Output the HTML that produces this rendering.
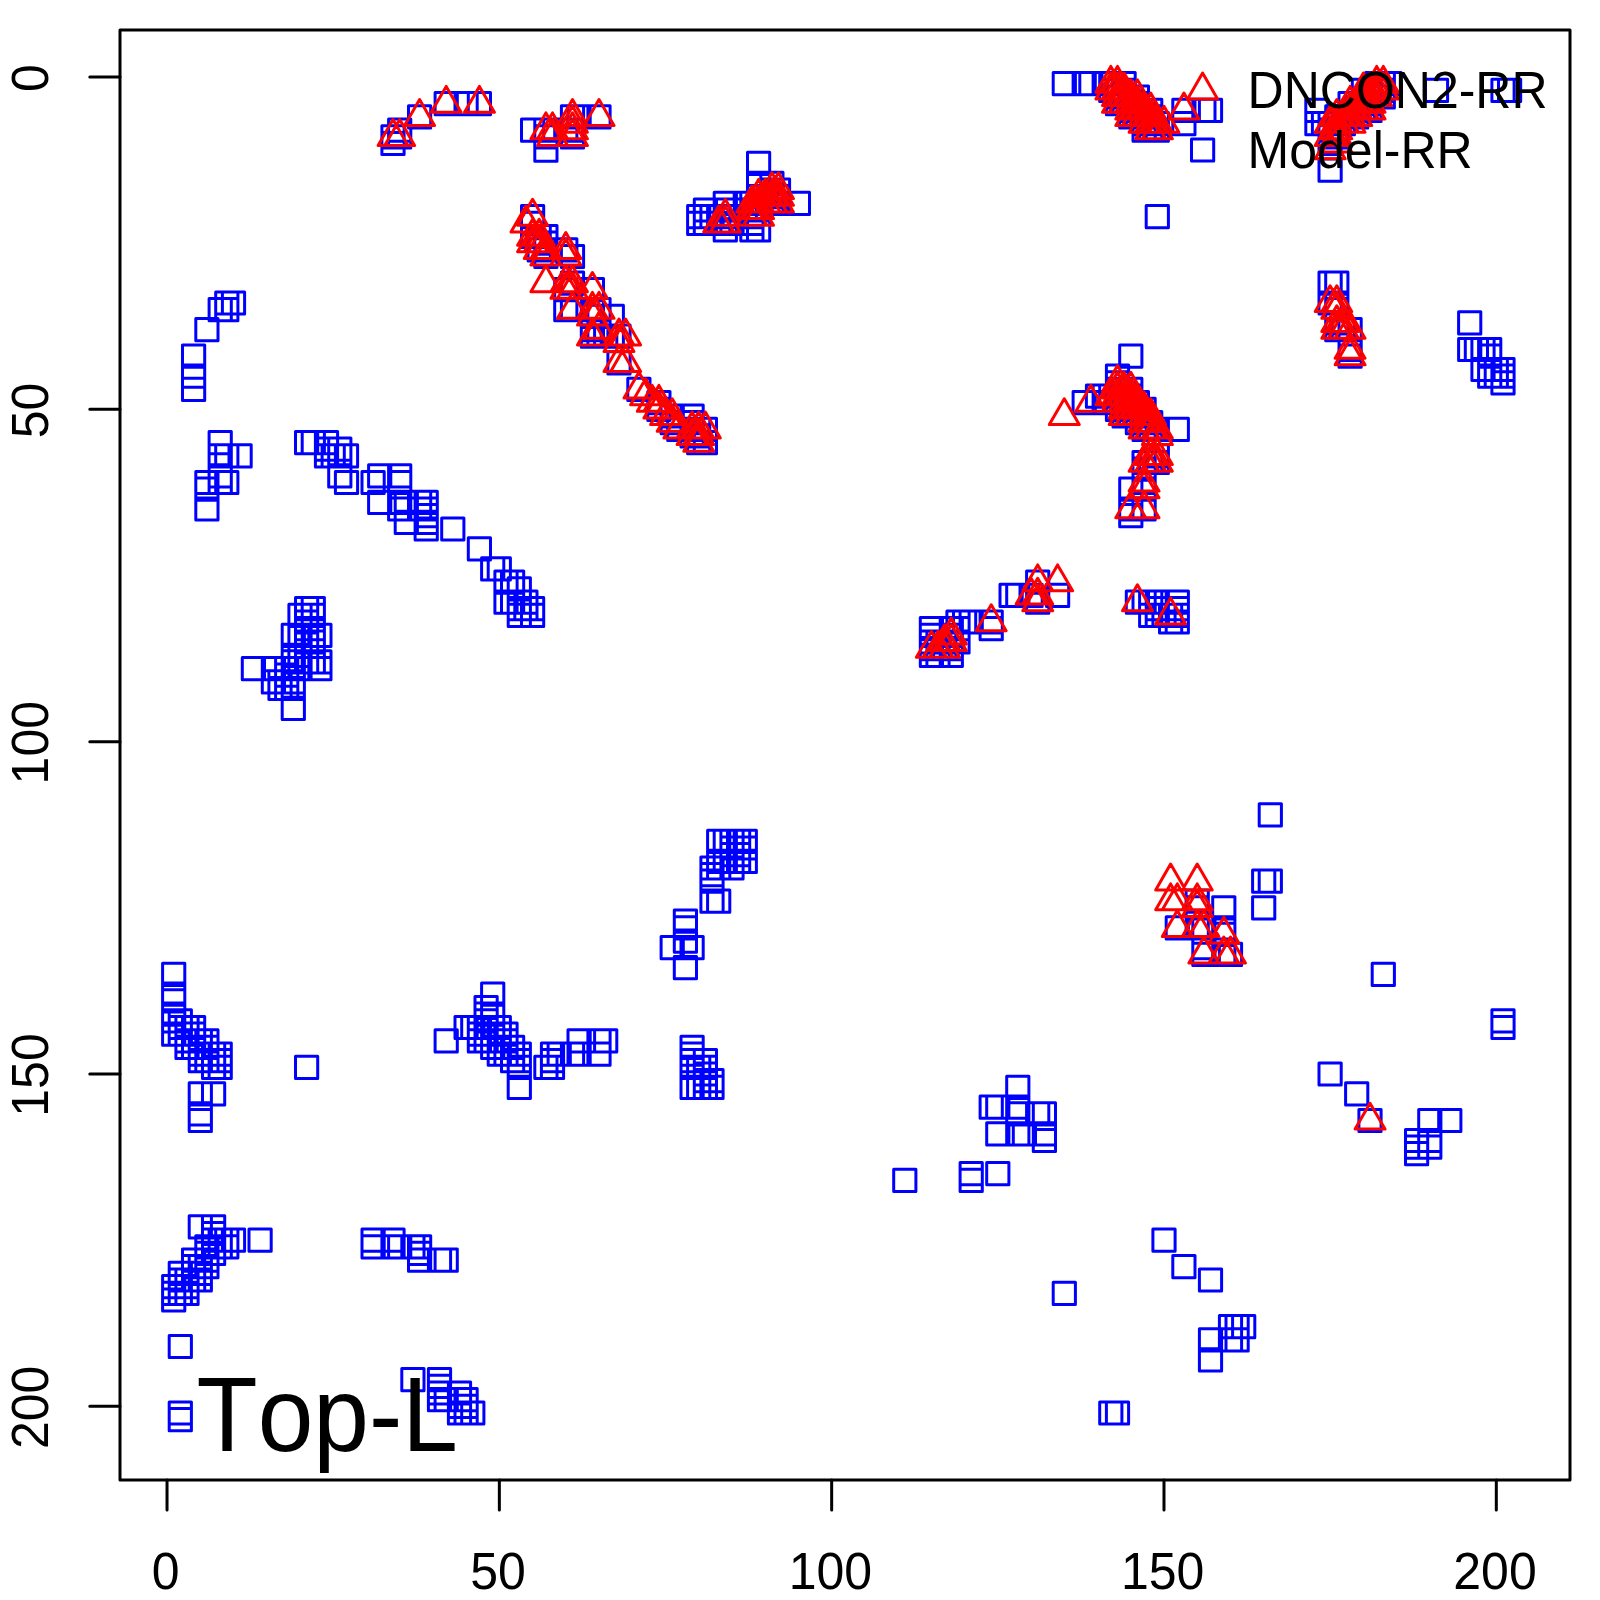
<!DOCTYPE html>
<html><head><meta charset="utf-8"><title>Top-L</title>
<style>html,body{margin:0;padding:0;background:#fff}svg{display:block}text{font-family:"Liberation Sans",Arial,Helvetica,sans-serif;fill:#000;font-kerning:none}</style></head><body>
<svg width="1600" height="1600" viewBox="0 0 1600 1600">
<rect width="1600" height="1600" fill="#fff"/>
<path d="M162.6 963.2h22.2v22.2h-22.2zM162.6 983.1h22.2v22.2h-22.2zM162.6 989.8h22.2v22.2h-22.2zM162.6 1003.1h22.2v22.2h-22.2zM162.6 1009.7h22.2v22.2h-22.2zM162.6 1023.0h22.2v22.2h-22.2zM162.6 1275.6h22.2v22.2h-22.2zM162.6 1282.2h22.2v22.2h-22.2zM162.6 1288.9h22.2v22.2h-22.2zM169.2 1009.7h22.2v22.2h-22.2zM169.2 1016.4h22.2v22.2h-22.2zM169.2 1023.0h22.2v22.2h-22.2zM169.2 1262.3h22.2v22.2h-22.2zM169.2 1268.9h22.2v22.2h-22.2zM169.2 1275.6h22.2v22.2h-22.2zM169.2 1282.2h22.2v22.2h-22.2zM169.2 1335.4h22.2v22.2h-22.2zM169.2 1401.9h22.2v22.2h-22.2zM169.2 1408.5h22.2v22.2h-22.2zM175.9 1016.4h22.2v22.2h-22.2zM175.9 1023.0h22.2v22.2h-22.2zM175.9 1029.7h22.2v22.2h-22.2zM175.9 1036.3h22.2v22.2h-22.2zM175.9 1268.9h22.2v22.2h-22.2zM175.9 1275.6h22.2v22.2h-22.2zM175.9 1282.2h22.2v22.2h-22.2zM182.5 345.1h22.2v22.2h-22.2zM182.5 365.0h22.2v22.2h-22.2zM182.5 378.3h22.2v22.2h-22.2zM182.5 1016.4h22.2v22.2h-22.2zM182.5 1023.0h22.2v22.2h-22.2zM182.5 1029.7h22.2v22.2h-22.2zM182.5 1036.3h22.2v22.2h-22.2zM182.5 1249.0h22.2v22.2h-22.2zM182.5 1255.6h22.2v22.2h-22.2zM182.5 1262.3h22.2v22.2h-22.2zM182.5 1268.9h22.2v22.2h-22.2zM189.2 1029.7h22.2v22.2h-22.2zM189.2 1036.3h22.2v22.2h-22.2zM189.2 1043.0h22.2v22.2h-22.2zM189.2 1049.6h22.2v22.2h-22.2zM189.2 1082.8h22.2v22.2h-22.2zM189.2 1102.8h22.2v22.2h-22.2zM189.2 1109.4h22.2v22.2h-22.2zM189.2 1215.8h22.2v22.2h-22.2zM189.2 1255.6h22.2v22.2h-22.2zM189.2 1262.3h22.2v22.2h-22.2zM189.2 1268.9h22.2v22.2h-22.2zM195.8 318.5h22.2v22.2h-22.2zM195.8 471.4h22.2v22.2h-22.2zM195.8 478.0h22.2v22.2h-22.2zM195.8 497.9h22.2v22.2h-22.2zM195.8 1029.7h22.2v22.2h-22.2zM195.8 1036.3h22.2v22.2h-22.2zM195.8 1043.0h22.2v22.2h-22.2zM195.8 1049.6h22.2v22.2h-22.2zM195.8 1235.7h22.2v22.2h-22.2zM195.8 1242.3h22.2v22.2h-22.2zM195.8 1249.0h22.2v22.2h-22.2zM195.8 1255.6h22.2v22.2h-22.2zM202.5 1043.0h22.2v22.2h-22.2zM202.5 1049.6h22.2v22.2h-22.2zM202.5 1056.2h22.2v22.2h-22.2zM202.5 1082.8h22.2v22.2h-22.2zM202.5 1215.8h22.2v22.2h-22.2zM202.5 1222.4h22.2v22.2h-22.2zM202.5 1229.0h22.2v22.2h-22.2zM202.5 1235.7h22.2v22.2h-22.2zM202.5 1242.3h22.2v22.2h-22.2zM209.1 298.6h22.2v22.2h-22.2zM209.1 431.5h22.2v22.2h-22.2zM209.1 444.8h22.2v22.2h-22.2zM209.1 464.7h22.2v22.2h-22.2zM209.1 471.4h22.2v22.2h-22.2zM209.1 1043.0h22.2v22.2h-22.2zM209.1 1049.6h22.2v22.2h-22.2zM209.1 1056.2h22.2v22.2h-22.2zM209.1 1229.0h22.2v22.2h-22.2zM209.1 1235.7h22.2v22.2h-22.2zM215.7 291.9h22.2v22.2h-22.2zM215.7 298.6h22.2v22.2h-22.2zM215.7 444.8h22.2v22.2h-22.2zM215.7 471.4h22.2v22.2h-22.2zM215.7 1229.0h22.2v22.2h-22.2zM215.7 1235.7h22.2v22.2h-22.2zM222.4 291.9h22.2v22.2h-22.2zM222.4 1229.0h22.2v22.2h-22.2zM229.0 444.8h22.2v22.2h-22.2zM242.3 657.5h22.2v22.2h-22.2zM249.0 1229.0h22.2v22.2h-22.2zM262.3 657.5h22.2v22.2h-22.2zM262.3 670.8h22.2v22.2h-22.2zM268.9 670.8h22.2v22.2h-22.2zM268.9 677.4h22.2v22.2h-22.2zM275.6 657.5h22.2v22.2h-22.2zM275.6 664.1h22.2v22.2h-22.2zM275.6 670.8h22.2v22.2h-22.2zM275.6 677.4h22.2v22.2h-22.2zM282.2 624.2h22.2v22.2h-22.2zM282.2 644.2h22.2v22.2h-22.2zM282.2 650.8h22.2v22.2h-22.2zM282.2 657.5h22.2v22.2h-22.2zM282.2 670.8h22.2v22.2h-22.2zM282.2 677.4h22.2v22.2h-22.2zM282.2 697.3h22.2v22.2h-22.2zM288.9 604.3h22.2v22.2h-22.2zM288.9 624.2h22.2v22.2h-22.2zM288.9 644.2h22.2v22.2h-22.2zM288.9 650.8h22.2v22.2h-22.2zM288.9 657.5h22.2v22.2h-22.2zM295.5 431.5h22.2v22.2h-22.2zM295.5 597.6h22.2v22.2h-22.2zM295.5 604.3h22.2v22.2h-22.2zM295.5 610.9h22.2v22.2h-22.2zM295.5 617.6h22.2v22.2h-22.2zM295.5 624.2h22.2v22.2h-22.2zM295.5 630.9h22.2v22.2h-22.2zM295.5 650.8h22.2v22.2h-22.2zM295.5 1056.2h22.2v22.2h-22.2zM302.2 431.5h22.2v22.2h-22.2zM302.2 597.6h22.2v22.2h-22.2zM302.2 604.3h22.2v22.2h-22.2zM302.2 617.6h22.2v22.2h-22.2zM302.2 624.2h22.2v22.2h-22.2zM302.2 630.9h22.2v22.2h-22.2zM302.2 650.8h22.2v22.2h-22.2zM308.8 624.2h22.2v22.2h-22.2zM308.8 650.8h22.2v22.2h-22.2zM308.8 657.5h22.2v22.2h-22.2zM315.4 431.5h22.2v22.2h-22.2zM315.4 438.1h22.2v22.2h-22.2zM315.4 444.8h22.2v22.2h-22.2zM322.1 444.8h22.2v22.2h-22.2zM328.7 438.1h22.2v22.2h-22.2zM328.7 444.8h22.2v22.2h-22.2zM328.7 464.7h22.2v22.2h-22.2zM335.4 444.8h22.2v22.2h-22.2zM335.4 471.4h22.2v22.2h-22.2zM362.0 471.4h22.2v22.2h-22.2zM362.0 1229.0h22.2v22.2h-22.2zM362.0 1235.7h22.2v22.2h-22.2zM368.6 464.7h22.2v22.2h-22.2zM368.6 491.3h22.2v22.2h-22.2zM381.9 125.7h22.2v22.2h-22.2zM381.9 132.4h22.2v22.2h-22.2zM381.9 1229.0h22.2v22.2h-22.2zM381.9 1235.7h22.2v22.2h-22.2zM388.6 119.1h22.2v22.2h-22.2zM388.6 125.7h22.2v22.2h-22.2zM388.6 464.7h22.2v22.2h-22.2zM388.6 471.4h22.2v22.2h-22.2zM388.6 491.3h22.2v22.2h-22.2zM388.6 497.9h22.2v22.2h-22.2zM388.6 1235.7h22.2v22.2h-22.2zM395.2 491.3h22.2v22.2h-22.2zM395.2 511.2h22.2v22.2h-22.2zM401.8 1235.7h22.2v22.2h-22.2zM401.8 1368.6h22.2v22.2h-22.2zM408.5 105.8h22.2v22.2h-22.2zM408.5 491.3h22.2v22.2h-22.2zM408.5 497.9h22.2v22.2h-22.2zM408.5 1235.7h22.2v22.2h-22.2zM408.5 1242.3h22.2v22.2h-22.2zM408.5 1249.0h22.2v22.2h-22.2zM415.1 491.3h22.2v22.2h-22.2zM415.1 497.9h22.2v22.2h-22.2zM415.1 504.6h22.2v22.2h-22.2zM415.1 511.2h22.2v22.2h-22.2zM415.1 517.9h22.2v22.2h-22.2zM428.4 1249.0h22.2v22.2h-22.2zM428.4 1368.6h22.2v22.2h-22.2zM428.4 1375.3h22.2v22.2h-22.2zM428.4 1381.9h22.2v22.2h-22.2zM428.4 1388.6h22.2v22.2h-22.2zM435.1 92.5h22.2v22.2h-22.2zM435.1 1029.7h22.2v22.2h-22.2zM435.1 1249.0h22.2v22.2h-22.2zM435.1 1388.6h22.2v22.2h-22.2zM441.7 517.9h22.2v22.2h-22.2zM448.4 1381.9h22.2v22.2h-22.2zM448.4 1395.2h22.2v22.2h-22.2zM448.4 1401.9h22.2v22.2h-22.2zM455.0 92.5h22.2v22.2h-22.2zM455.0 1016.4h22.2v22.2h-22.2zM455.0 1388.6h22.2v22.2h-22.2zM455.0 1395.2h22.2v22.2h-22.2zM455.0 1401.9h22.2v22.2h-22.2zM461.7 1016.4h22.2v22.2h-22.2zM461.7 1401.9h22.2v22.2h-22.2zM468.3 92.5h22.2v22.2h-22.2zM468.3 537.8h22.2v22.2h-22.2zM468.3 1016.4h22.2v22.2h-22.2zM468.3 1023.0h22.2v22.2h-22.2zM468.3 1029.7h22.2v22.2h-22.2zM475.0 996.4h22.2v22.2h-22.2zM475.0 1003.1h22.2v22.2h-22.2zM475.0 1009.7h22.2v22.2h-22.2zM475.0 1016.4h22.2v22.2h-22.2zM475.0 1023.0h22.2v22.2h-22.2zM475.0 1029.7h22.2v22.2h-22.2zM481.6 557.8h22.2v22.2h-22.2zM481.6 983.1h22.2v22.2h-22.2zM481.6 1003.1h22.2v22.2h-22.2zM481.6 1016.4h22.2v22.2h-22.2zM481.6 1023.0h22.2v22.2h-22.2zM481.6 1029.7h22.2v22.2h-22.2zM481.6 1036.3h22.2v22.2h-22.2zM488.2 557.8h22.2v22.2h-22.2zM488.2 1016.4h22.2v22.2h-22.2zM488.2 1023.0h22.2v22.2h-22.2zM488.2 1029.7h22.2v22.2h-22.2zM488.2 1036.3h22.2v22.2h-22.2zM488.2 1043.0h22.2v22.2h-22.2zM494.9 571.1h22.2v22.2h-22.2zM494.9 591.0h22.2v22.2h-22.2zM494.9 1023.0h22.2v22.2h-22.2zM494.9 1029.7h22.2v22.2h-22.2zM494.9 1036.3h22.2v22.2h-22.2zM494.9 1043.0h22.2v22.2h-22.2zM501.5 571.1h22.2v22.2h-22.2zM501.5 591.0h22.2v22.2h-22.2zM501.5 1036.3h22.2v22.2h-22.2zM501.5 1043.0h22.2v22.2h-22.2zM501.5 1049.6h22.2v22.2h-22.2zM508.2 577.7h22.2v22.2h-22.2zM508.2 591.0h22.2v22.2h-22.2zM508.2 597.6h22.2v22.2h-22.2zM508.2 604.3h22.2v22.2h-22.2zM508.2 1043.0h22.2v22.2h-22.2zM508.2 1049.6h22.2v22.2h-22.2zM508.2 1056.2h22.2v22.2h-22.2zM508.2 1076.2h22.2v22.2h-22.2zM514.8 591.0h22.2v22.2h-22.2zM514.8 597.6h22.2v22.2h-22.2zM521.5 119.1h22.2v22.2h-22.2zM521.5 205.5h22.2v22.2h-22.2zM521.5 212.2h22.2v22.2h-22.2zM521.5 225.4h22.2v22.2h-22.2zM521.5 597.6h22.2v22.2h-22.2zM521.5 604.3h22.2v22.2h-22.2zM528.1 225.4h22.2v22.2h-22.2zM528.1 238.7h22.2v22.2h-22.2zM534.8 119.1h22.2v22.2h-22.2zM534.8 125.7h22.2v22.2h-22.2zM534.8 139.0h22.2v22.2h-22.2zM534.8 225.4h22.2v22.2h-22.2zM534.8 232.1h22.2v22.2h-22.2zM534.8 238.7h22.2v22.2h-22.2zM534.8 245.4h22.2v22.2h-22.2zM534.8 1056.2h22.2v22.2h-22.2zM541.4 1043.0h22.2v22.2h-22.2zM541.4 1049.6h22.2v22.2h-22.2zM541.4 1056.2h22.2v22.2h-22.2zM548.1 1043.0h22.2v22.2h-22.2zM554.7 119.1h22.2v22.2h-22.2zM554.7 238.7h22.2v22.2h-22.2zM554.7 278.6h22.2v22.2h-22.2zM554.7 298.6h22.2v22.2h-22.2zM561.4 105.8h22.2v22.2h-22.2zM561.4 119.1h22.2v22.2h-22.2zM561.4 125.7h22.2v22.2h-22.2zM561.4 245.4h22.2v22.2h-22.2zM561.4 272.0h22.2v22.2h-22.2zM561.4 298.6h22.2v22.2h-22.2zM561.4 1043.0h22.2v22.2h-22.2zM568.0 105.8h22.2v22.2h-22.2zM568.0 1029.7h22.2v22.2h-22.2zM568.0 1043.0h22.2v22.2h-22.2zM581.3 278.6h22.2v22.2h-22.2zM581.3 298.6h22.2v22.2h-22.2zM581.3 305.2h22.2v22.2h-22.2zM581.3 318.5h22.2v22.2h-22.2zM581.3 325.1h22.2v22.2h-22.2zM587.9 105.8h22.2v22.2h-22.2zM587.9 298.6h22.2v22.2h-22.2zM587.9 318.5h22.2v22.2h-22.2zM587.9 325.1h22.2v22.2h-22.2zM587.9 1029.7h22.2v22.2h-22.2zM587.9 1043.0h22.2v22.2h-22.2zM594.6 325.1h22.2v22.2h-22.2zM594.6 1029.7h22.2v22.2h-22.2zM601.2 305.2h22.2v22.2h-22.2zM601.2 325.1h22.2v22.2h-22.2zM607.9 325.1h22.2v22.2h-22.2zM607.9 351.7h22.2v22.2h-22.2zM627.8 378.3h22.2v22.2h-22.2zM647.8 391.6h22.2v22.2h-22.2zM647.8 398.2h22.2v22.2h-22.2zM661.1 404.9h22.2v22.2h-22.2zM661.1 411.5h22.2v22.2h-22.2zM661.1 936.6h22.2v22.2h-22.2zM667.7 418.2h22.2v22.2h-22.2zM674.3 910.0h22.2v22.2h-22.2zM674.3 916.7h22.2v22.2h-22.2zM674.3 930.0h22.2v22.2h-22.2zM674.3 956.5h22.2v22.2h-22.2zM681.0 404.9h22.2v22.2h-22.2zM681.0 411.5h22.2v22.2h-22.2zM681.0 418.2h22.2v22.2h-22.2zM681.0 424.8h22.2v22.2h-22.2zM681.0 936.6h22.2v22.2h-22.2zM681.0 1036.3h22.2v22.2h-22.2zM681.0 1043.0h22.2v22.2h-22.2zM681.0 1049.6h22.2v22.2h-22.2zM681.0 1056.2h22.2v22.2h-22.2zM681.0 1076.2h22.2v22.2h-22.2zM687.6 205.5h22.2v22.2h-22.2zM687.6 212.2h22.2v22.2h-22.2zM687.6 418.2h22.2v22.2h-22.2zM687.6 424.8h22.2v22.2h-22.2zM687.6 431.5h22.2v22.2h-22.2zM687.6 1056.2h22.2v22.2h-22.2zM687.6 1076.2h22.2v22.2h-22.2zM694.3 198.9h22.2v22.2h-22.2zM694.3 205.5h22.2v22.2h-22.2zM694.3 212.2h22.2v22.2h-22.2zM694.3 418.2h22.2v22.2h-22.2zM694.3 431.5h22.2v22.2h-22.2zM694.3 1049.6h22.2v22.2h-22.2zM694.3 1056.2h22.2v22.2h-22.2zM694.3 1062.9h22.2v22.2h-22.2zM694.3 1069.5h22.2v22.2h-22.2zM694.3 1076.2h22.2v22.2h-22.2zM700.9 205.5h22.2v22.2h-22.2zM700.9 856.9h22.2v22.2h-22.2zM700.9 863.5h22.2v22.2h-22.2zM700.9 870.1h22.2v22.2h-22.2zM700.9 890.1h22.2v22.2h-22.2zM700.9 1069.5h22.2v22.2h-22.2zM700.9 1076.2h22.2v22.2h-22.2zM707.6 205.5h22.2v22.2h-22.2zM707.6 212.2h22.2v22.2h-22.2zM707.6 830.3h22.2v22.2h-22.2zM707.6 850.2h22.2v22.2h-22.2zM707.6 856.9h22.2v22.2h-22.2zM707.6 890.1h22.2v22.2h-22.2zM714.2 192.2h22.2v22.2h-22.2zM714.2 198.9h22.2v22.2h-22.2zM714.2 205.5h22.2v22.2h-22.2zM714.2 212.2h22.2v22.2h-22.2zM714.2 218.8h22.2v22.2h-22.2zM714.2 830.3h22.2v22.2h-22.2zM714.2 850.2h22.2v22.2h-22.2zM720.9 205.5h22.2v22.2h-22.2zM720.9 212.2h22.2v22.2h-22.2zM720.9 830.3h22.2v22.2h-22.2zM720.9 836.9h22.2v22.2h-22.2zM720.9 843.6h22.2v22.2h-22.2zM720.9 850.2h22.2v22.2h-22.2zM720.9 856.9h22.2v22.2h-22.2zM727.5 830.3h22.2v22.2h-22.2zM727.5 836.9h22.2v22.2h-22.2zM727.5 843.6h22.2v22.2h-22.2zM727.5 850.2h22.2v22.2h-22.2zM734.2 192.2h22.2v22.2h-22.2zM734.2 198.9h22.2v22.2h-22.2zM734.2 830.3h22.2v22.2h-22.2zM734.2 836.9h22.2v22.2h-22.2zM734.2 850.2h22.2v22.2h-22.2zM740.8 192.2h22.2v22.2h-22.2zM740.8 198.9h22.2v22.2h-22.2zM740.8 205.5h22.2v22.2h-22.2zM740.8 212.2h22.2v22.2h-22.2zM740.8 218.8h22.2v22.2h-22.2zM747.5 152.3h22.2v22.2h-22.2zM747.5 172.3h22.2v22.2h-22.2zM747.5 185.6h22.2v22.2h-22.2zM747.5 192.2h22.2v22.2h-22.2zM747.5 198.9h22.2v22.2h-22.2zM747.5 218.8h22.2v22.2h-22.2zM754.1 185.6h22.2v22.2h-22.2zM760.8 172.3h22.2v22.2h-22.2zM760.8 178.9h22.2v22.2h-22.2zM760.8 185.6h22.2v22.2h-22.2zM760.8 192.2h22.2v22.2h-22.2zM767.4 178.9h22.2v22.2h-22.2zM767.4 185.6h22.2v22.2h-22.2zM767.4 192.2h22.2v22.2h-22.2zM787.3 192.2h22.2v22.2h-22.2zM893.7 1169.2h22.2v22.2h-22.2zM920.3 617.6h22.2v22.2h-22.2zM920.3 624.2h22.2v22.2h-22.2zM920.3 630.9h22.2v22.2h-22.2zM920.3 637.5h22.2v22.2h-22.2zM920.3 644.2h22.2v22.2h-22.2zM926.9 630.9h22.2v22.2h-22.2zM926.9 637.5h22.2v22.2h-22.2zM926.9 644.2h22.2v22.2h-22.2zM933.6 630.9h22.2v22.2h-22.2zM933.6 637.5h22.2v22.2h-22.2zM940.2 617.6h22.2v22.2h-22.2zM940.2 624.2h22.2v22.2h-22.2zM940.2 630.9h22.2v22.2h-22.2zM940.2 637.5h22.2v22.2h-22.2zM940.2 644.2h22.2v22.2h-22.2zM946.9 610.9h22.2v22.2h-22.2zM946.9 617.6h22.2v22.2h-22.2zM946.9 630.9h22.2v22.2h-22.2zM953.5 610.9h22.2v22.2h-22.2zM960.1 610.9h22.2v22.2h-22.2zM960.1 1162.6h22.2v22.2h-22.2zM960.1 1169.2h22.2v22.2h-22.2zM980.1 610.9h22.2v22.2h-22.2zM980.1 617.6h22.2v22.2h-22.2zM980.1 1096.1h22.2v22.2h-22.2zM986.7 1096.1h22.2v22.2h-22.2zM986.7 1122.7h22.2v22.2h-22.2zM986.7 1162.6h22.2v22.2h-22.2zM1000.0 584.3h22.2v22.2h-22.2zM1006.7 584.3h22.2v22.2h-22.2zM1006.7 1076.2h22.2v22.2h-22.2zM1006.7 1096.1h22.2v22.2h-22.2zM1006.7 1102.8h22.2v22.2h-22.2zM1006.7 1122.7h22.2v22.2h-22.2zM1013.3 1122.7h22.2v22.2h-22.2zM1020.0 584.3h22.2v22.2h-22.2zM1026.6 571.1h22.2v22.2h-22.2zM1026.6 591.0h22.2v22.2h-22.2zM1026.6 1102.8h22.2v22.2h-22.2zM1033.3 1102.8h22.2v22.2h-22.2zM1033.3 1122.7h22.2v22.2h-22.2zM1033.3 1129.4h22.2v22.2h-22.2zM1046.5 584.3h22.2v22.2h-22.2zM1053.2 72.6h22.2v22.2h-22.2zM1053.2 1282.2h22.2v22.2h-22.2zM1073.1 72.6h22.2v22.2h-22.2zM1073.1 391.6h22.2v22.2h-22.2zM1079.8 72.6h22.2v22.2h-22.2zM1086.4 385.0h22.2v22.2h-22.2zM1093.1 72.6h22.2v22.2h-22.2zM1093.1 385.0h22.2v22.2h-22.2zM1093.1 391.6h22.2v22.2h-22.2zM1099.7 72.6h22.2v22.2h-22.2zM1099.7 79.2h22.2v22.2h-22.2zM1099.7 385.0h22.2v22.2h-22.2zM1099.7 1401.9h22.2v22.2h-22.2zM1106.4 79.2h22.2v22.2h-22.2zM1106.4 85.9h22.2v22.2h-22.2zM1106.4 92.5h22.2v22.2h-22.2zM1106.4 365.0h22.2v22.2h-22.2zM1106.4 371.7h22.2v22.2h-22.2zM1106.4 378.3h22.2v22.2h-22.2zM1106.4 385.0h22.2v22.2h-22.2zM1106.4 391.6h22.2v22.2h-22.2zM1106.4 398.2h22.2v22.2h-22.2zM1106.4 1401.9h22.2v22.2h-22.2zM1113.0 72.6h22.2v22.2h-22.2zM1113.0 79.2h22.2v22.2h-22.2zM1113.0 85.9h22.2v22.2h-22.2zM1113.0 92.5h22.2v22.2h-22.2zM1113.0 378.3h22.2v22.2h-22.2zM1113.0 385.0h22.2v22.2h-22.2zM1113.0 391.6h22.2v22.2h-22.2zM1113.0 398.2h22.2v22.2h-22.2zM1113.0 404.9h22.2v22.2h-22.2zM1119.7 85.9h22.2v22.2h-22.2zM1119.7 92.5h22.2v22.2h-22.2zM1119.7 99.2h22.2v22.2h-22.2zM1119.7 105.8h22.2v22.2h-22.2zM1119.7 345.1h22.2v22.2h-22.2zM1119.7 378.3h22.2v22.2h-22.2zM1119.7 385.0h22.2v22.2h-22.2zM1119.7 391.6h22.2v22.2h-22.2zM1119.7 398.2h22.2v22.2h-22.2zM1119.7 404.9h22.2v22.2h-22.2zM1119.7 478.0h22.2v22.2h-22.2zM1119.7 497.9h22.2v22.2h-22.2zM1119.7 504.6h22.2v22.2h-22.2zM1126.3 85.9h22.2v22.2h-22.2zM1126.3 92.5h22.2v22.2h-22.2zM1126.3 99.2h22.2v22.2h-22.2zM1126.3 105.8h22.2v22.2h-22.2zM1126.3 391.6h22.2v22.2h-22.2zM1126.3 398.2h22.2v22.2h-22.2zM1126.3 404.9h22.2v22.2h-22.2zM1126.3 411.5h22.2v22.2h-22.2zM1126.3 591.0h22.2v22.2h-22.2zM1133.0 99.2h22.2v22.2h-22.2zM1133.0 105.8h22.2v22.2h-22.2zM1133.0 112.5h22.2v22.2h-22.2zM1133.0 119.1h22.2v22.2h-22.2zM1133.0 398.2h22.2v22.2h-22.2zM1133.0 404.9h22.2v22.2h-22.2zM1133.0 411.5h22.2v22.2h-22.2zM1133.0 418.2h22.2v22.2h-22.2zM1133.0 451.4h22.2v22.2h-22.2zM1133.0 458.1h22.2v22.2h-22.2zM1133.0 471.4h22.2v22.2h-22.2zM1133.0 478.0h22.2v22.2h-22.2zM1133.0 497.9h22.2v22.2h-22.2zM1133.0 591.0h22.2v22.2h-22.2zM1139.6 99.2h22.2v22.2h-22.2zM1139.6 105.8h22.2v22.2h-22.2zM1139.6 112.5h22.2v22.2h-22.2zM1139.6 119.1h22.2v22.2h-22.2zM1139.6 411.5h22.2v22.2h-22.2zM1139.6 418.2h22.2v22.2h-22.2zM1139.6 451.4h22.2v22.2h-22.2zM1139.6 591.0h22.2v22.2h-22.2zM1139.6 604.3h22.2v22.2h-22.2zM1146.2 112.5h22.2v22.2h-22.2zM1146.2 119.1h22.2v22.2h-22.2zM1146.2 205.5h22.2v22.2h-22.2zM1146.2 418.2h22.2v22.2h-22.2zM1146.2 444.8h22.2v22.2h-22.2zM1146.2 451.4h22.2v22.2h-22.2zM1146.2 591.0h22.2v22.2h-22.2zM1146.2 597.6h22.2v22.2h-22.2zM1146.2 604.3h22.2v22.2h-22.2zM1152.9 604.3h22.2v22.2h-22.2zM1152.9 1229.0h22.2v22.2h-22.2zM1159.5 604.3h22.2v22.2h-22.2zM1159.5 610.9h22.2v22.2h-22.2zM1166.2 418.2h22.2v22.2h-22.2zM1166.2 591.0h22.2v22.2h-22.2zM1166.2 597.6h22.2v22.2h-22.2zM1166.2 604.3h22.2v22.2h-22.2zM1166.2 610.9h22.2v22.2h-22.2zM1166.2 916.7h22.2v22.2h-22.2zM1172.8 99.2h22.2v22.2h-22.2zM1172.8 112.5h22.2v22.2h-22.2zM1172.8 1255.6h22.2v22.2h-22.2zM1186.1 890.1h22.2v22.2h-22.2zM1186.1 896.7h22.2v22.2h-22.2zM1186.1 916.7h22.2v22.2h-22.2zM1192.8 99.2h22.2v22.2h-22.2zM1192.8 916.7h22.2v22.2h-22.2zM1192.8 936.6h22.2v22.2h-22.2zM1192.8 943.3h22.2v22.2h-22.2zM1199.4 99.2h22.2v22.2h-22.2zM1199.4 1268.9h22.2v22.2h-22.2zM1199.4 1328.7h22.2v22.2h-22.2zM1199.4 1348.7h22.2v22.2h-22.2zM1212.7 896.7h22.2v22.2h-22.2zM1212.7 916.7h22.2v22.2h-22.2zM1212.7 923.3h22.2v22.2h-22.2zM1212.7 943.3h22.2v22.2h-22.2zM1219.4 943.3h22.2v22.2h-22.2zM1219.4 1315.5h22.2v22.2h-22.2zM1219.4 1328.7h22.2v22.2h-22.2zM1226.0 1315.5h22.2v22.2h-22.2zM1226.0 1328.7h22.2v22.2h-22.2zM1232.6 1315.5h22.2v22.2h-22.2zM1252.6 870.1h22.2v22.2h-22.2zM1252.6 896.7h22.2v22.2h-22.2zM1259.2 803.7h22.2v22.2h-22.2zM1259.2 870.1h22.2v22.2h-22.2zM1305.8 99.2h22.2v22.2h-22.2zM1305.8 112.5h22.2v22.2h-22.2zM1312.4 112.5h22.2v22.2h-22.2zM1319.0 112.5h22.2v22.2h-22.2zM1319.0 119.1h22.2v22.2h-22.2zM1319.0 125.7h22.2v22.2h-22.2zM1319.0 132.4h22.2v22.2h-22.2zM1319.0 159.0h22.2v22.2h-22.2zM1319.0 272.0h22.2v22.2h-22.2zM1319.0 291.9h22.2v22.2h-22.2zM1319.0 1062.9h22.2v22.2h-22.2zM1325.7 105.8h22.2v22.2h-22.2zM1325.7 112.5h22.2v22.2h-22.2zM1325.7 119.1h22.2v22.2h-22.2zM1325.7 125.7h22.2v22.2h-22.2zM1325.7 272.0h22.2v22.2h-22.2zM1325.7 291.9h22.2v22.2h-22.2zM1325.7 298.6h22.2v22.2h-22.2zM1325.7 311.8h22.2v22.2h-22.2zM1325.7 318.5h22.2v22.2h-22.2zM1332.3 105.8h22.2v22.2h-22.2zM1332.3 112.5h22.2v22.2h-22.2zM1332.3 318.5h22.2v22.2h-22.2zM1339.0 92.5h22.2v22.2h-22.2zM1339.0 105.8h22.2v22.2h-22.2zM1339.0 318.5h22.2v22.2h-22.2zM1339.0 338.4h22.2v22.2h-22.2zM1339.0 345.1h22.2v22.2h-22.2zM1345.6 92.5h22.2v22.2h-22.2zM1345.6 99.2h22.2v22.2h-22.2zM1345.6 105.8h22.2v22.2h-22.2zM1345.6 1082.8h22.2v22.2h-22.2zM1352.3 79.2h22.2v22.2h-22.2zM1352.3 92.5h22.2v22.2h-22.2zM1352.3 99.2h22.2v22.2h-22.2zM1358.9 79.2h22.2v22.2h-22.2zM1358.9 85.9h22.2v22.2h-22.2zM1358.9 92.5h22.2v22.2h-22.2zM1358.9 99.2h22.2v22.2h-22.2zM1358.9 1109.4h22.2v22.2h-22.2zM1365.6 72.6h22.2v22.2h-22.2zM1365.6 79.2h22.2v22.2h-22.2zM1365.6 85.9h22.2v22.2h-22.2zM1372.2 72.6h22.2v22.2h-22.2zM1372.2 79.2h22.2v22.2h-22.2zM1372.2 85.9h22.2v22.2h-22.2zM1372.2 963.2h22.2v22.2h-22.2zM1378.9 72.6h22.2v22.2h-22.2zM1405.5 1129.4h22.2v22.2h-22.2zM1405.5 1136.0h22.2v22.2h-22.2zM1405.5 1142.6h22.2v22.2h-22.2zM1418.7 1109.4h22.2v22.2h-22.2zM1418.7 1129.4h22.2v22.2h-22.2zM1418.7 1136.0h22.2v22.2h-22.2zM1425.4 79.2h22.2v22.2h-22.2zM1438.7 1109.4h22.2v22.2h-22.2zM1458.6 311.8h22.2v22.2h-22.2zM1458.6 338.4h22.2v22.2h-22.2zM1465.3 338.4h22.2v22.2h-22.2zM1471.9 338.4h22.2v22.2h-22.2zM1471.9 358.4h22.2v22.2h-22.2zM1478.6 338.4h22.2v22.2h-22.2zM1478.6 345.1h22.2v22.2h-22.2zM1478.6 365.0h22.2v22.2h-22.2zM1485.2 358.4h22.2v22.2h-22.2zM1485.2 365.0h22.2v22.2h-22.2zM1491.9 79.2h22.2v22.2h-22.2zM1491.9 358.4h22.2v22.2h-22.2zM1491.9 365.0h22.2v22.2h-22.2zM1491.9 371.7h22.2v22.2h-22.2zM1491.9 1009.7h22.2v22.2h-22.2zM1491.9 1016.4h22.2v22.2h-22.2zM1498.5 79.2h22.2v22.2h-22.2z" fill="none" stroke="#0000ff" stroke-width="3.00" stroke-linejoin="round"/>
<path d="M393.0 119.6L408.0 145.5L378.1 145.5zM399.7 119.6L414.6 145.5L384.7 145.5zM419.6 99.6L434.5 125.5L404.6 125.5zM446.2 86.4L461.1 112.2L431.2 112.2zM479.4 86.4L494.4 112.2L464.5 112.2zM525.9 206.0L540.9 231.9L511.0 231.9zM532.6 199.3L547.5 225.2L517.6 225.2zM532.6 219.3L547.5 245.2L517.6 245.2zM532.6 225.9L547.5 251.8L517.6 251.8zM539.2 219.3L554.2 245.2L524.3 245.2zM539.2 225.9L554.2 251.8L524.3 251.8zM539.2 232.6L554.2 258.5L524.3 258.5zM545.9 112.9L560.8 138.8L530.9 138.8zM545.9 232.6L560.8 258.5L530.9 258.5zM545.9 239.2L560.8 265.1L530.9 265.1zM545.9 265.8L560.8 291.7L530.9 291.7zM552.5 112.9L567.5 138.8L537.6 138.8zM552.5 119.6L567.5 145.5L537.6 145.5zM565.8 232.6L580.8 258.5L550.9 258.5zM565.8 239.2L580.8 265.1L550.9 265.1zM565.8 265.8L580.8 291.7L550.9 291.7zM565.8 272.5L580.8 298.3L550.9 298.3zM572.5 99.6L587.4 125.5L557.5 125.5zM572.5 106.3L587.4 132.2L557.5 132.2zM572.5 112.9L587.4 138.8L557.5 138.8zM572.5 119.6L587.4 145.5L557.5 145.5zM572.5 265.8L587.4 291.7L557.5 291.7zM572.5 272.5L587.4 298.3L557.5 298.3zM572.5 292.4L587.4 318.3L557.5 318.3zM592.4 272.5L607.3 298.3L577.5 298.3zM592.4 292.4L607.3 318.3L577.5 318.3zM592.4 299.0L607.3 324.9L577.5 324.9zM592.4 319.0L607.3 344.9L577.5 344.9zM599.0 99.6L614.0 125.5L584.1 125.5zM599.0 292.4L614.0 318.3L584.1 318.3zM599.0 312.3L614.0 338.2L584.1 338.2zM619.0 319.0L633.9 344.9L604.0 344.9zM619.0 325.6L633.9 351.5L604.0 351.5zM619.0 345.6L633.9 371.5L604.0 371.5zM625.6 319.0L640.6 344.9L610.7 344.9zM625.6 345.6L640.6 371.5L610.7 371.5zM638.9 372.2L653.9 398.0L624.0 398.0zM645.6 378.8L660.5 404.7L630.6 404.7zM652.2 385.4L667.2 411.3L637.3 411.3zM658.9 385.4L673.8 411.3L643.9 411.3zM658.9 392.1L673.8 418.0L643.9 418.0zM665.5 398.7L680.5 424.6L650.6 424.6zM672.2 398.7L687.1 424.6L657.2 424.6zM672.2 405.4L687.1 431.3L657.2 431.3zM678.8 412.0L693.8 437.9L663.9 437.9zM692.1 412.0L707.0 437.9L677.1 437.9zM692.1 418.7L707.0 444.6L677.1 444.6zM698.7 412.0L713.7 437.9L683.8 437.9zM698.7 418.7L713.7 444.6L683.8 444.6zM698.7 425.3L713.7 451.2L683.8 451.2zM705.4 412.0L720.3 437.9L690.4 437.9zM718.7 206.0L733.6 231.9L703.7 231.9zM725.3 199.3L740.3 225.2L710.4 225.2zM725.3 206.0L740.3 231.9L710.4 231.9zM751.9 186.1L766.9 211.9L737.0 211.9zM751.9 192.7L766.9 218.6L737.0 218.6zM751.9 199.3L766.9 225.2L737.0 225.2zM758.6 179.4L773.5 205.3L743.6 205.3zM758.6 186.1L773.5 211.9L743.6 211.9zM758.6 192.7L773.5 218.6L743.6 218.6zM758.6 199.3L773.5 225.2L743.6 225.2zM765.2 179.4L780.2 205.3L750.3 205.3zM765.2 186.1L780.2 211.9L750.3 211.9zM771.9 172.8L786.8 198.6L756.9 198.6zM771.9 179.4L786.8 205.3L756.9 205.3zM771.9 186.1L786.8 211.9L756.9 211.9zM778.5 172.8L793.4 198.6L763.6 198.6zM778.5 179.4L793.4 205.3L763.6 205.3zM778.5 186.1L793.4 211.9L763.6 211.9zM931.4 631.4L946.3 657.3L916.4 657.3zM938.0 631.4L953.0 657.3L923.1 657.3zM944.7 624.7L959.6 650.6L929.7 650.6zM944.7 631.4L959.6 657.3L929.7 657.3zM951.3 618.1L966.3 644.0L936.4 644.0zM951.3 624.7L966.3 650.6L936.4 650.6zM991.2 604.8L1006.1 630.7L976.2 630.7zM1031.1 578.2L1046.0 604.1L1016.1 604.1zM1037.7 564.9L1052.7 590.8L1022.8 590.8zM1037.7 578.2L1052.7 604.1L1022.8 604.1zM1037.7 584.8L1052.7 610.7L1022.8 610.7zM1057.6 564.9L1072.6 590.8L1042.7 590.8zM1064.3 398.7L1079.2 424.6L1049.3 424.6zM1090.9 385.4L1105.8 411.3L1075.9 411.3zM1110.8 66.4L1125.8 92.3L1095.9 92.3zM1110.8 73.1L1125.8 99.0L1095.9 99.0zM1110.8 378.8L1125.8 404.7L1095.9 404.7zM1117.5 66.4L1132.4 92.3L1102.5 92.3zM1117.5 73.1L1132.4 99.0L1102.5 99.0zM1117.5 79.7L1132.4 105.6L1102.5 105.6zM1117.5 86.4L1132.4 112.2L1102.5 112.2zM1117.5 365.5L1132.4 391.4L1102.5 391.4zM1117.5 372.2L1132.4 398.0L1102.5 398.0zM1117.5 378.8L1132.4 404.7L1102.5 404.7zM1117.5 385.4L1132.4 411.3L1102.5 411.3zM1124.1 73.1L1139.1 99.0L1109.2 99.0zM1124.1 79.7L1139.1 105.6L1109.2 105.6zM1124.1 86.4L1139.1 112.2L1109.2 112.2zM1124.1 372.2L1139.1 398.0L1109.2 398.0zM1124.1 378.8L1139.1 404.7L1109.2 404.7zM1124.1 385.4L1139.1 411.3L1109.2 411.3zM1124.1 392.1L1139.1 418.0L1109.2 418.0zM1124.1 398.7L1139.1 424.6L1109.2 424.6zM1130.8 79.7L1145.7 105.6L1115.8 105.6zM1130.8 86.4L1145.7 112.2L1115.8 112.2zM1130.8 93.0L1145.7 118.9L1115.8 118.9zM1130.8 99.6L1145.7 125.5L1115.8 125.5zM1130.8 372.2L1145.7 398.0L1115.8 398.0zM1130.8 378.8L1145.7 404.7L1115.8 404.7zM1130.8 385.4L1145.7 411.3L1115.8 411.3zM1130.8 392.1L1145.7 418.0L1115.8 418.0zM1130.8 398.7L1145.7 424.6L1115.8 424.6zM1130.8 491.8L1145.7 517.7L1115.8 517.7zM1137.4 79.7L1152.4 105.6L1122.5 105.6zM1137.4 86.4L1152.4 112.2L1122.5 112.2zM1137.4 93.0L1152.4 118.9L1122.5 118.9zM1137.4 99.6L1152.4 125.5L1122.5 125.5zM1137.4 385.4L1152.4 411.3L1122.5 411.3zM1137.4 392.1L1152.4 418.0L1122.5 418.0zM1137.4 398.7L1152.4 424.6L1122.5 424.6zM1137.4 584.8L1152.4 610.7L1122.5 610.7zM1144.1 93.0L1159.0 118.9L1129.1 118.9zM1144.1 99.6L1159.0 125.5L1129.1 125.5zM1144.1 106.3L1159.0 132.2L1129.1 132.2zM1144.1 392.1L1159.0 418.0L1129.1 418.0zM1144.1 398.7L1159.0 424.6L1129.1 424.6zM1144.1 405.4L1159.0 431.3L1129.1 431.3zM1144.1 412.0L1159.0 437.9L1129.1 437.9zM1144.1 445.3L1159.0 471.2L1129.1 471.2zM1144.1 465.2L1159.0 491.1L1129.1 491.1zM1144.1 471.8L1159.0 497.7L1129.1 497.7zM1144.1 491.8L1159.0 517.7L1129.1 517.7zM1150.7 93.0L1165.6 118.9L1135.7 118.9zM1150.7 99.6L1165.6 125.5L1135.7 125.5zM1150.7 106.3L1165.6 132.2L1135.7 132.2zM1150.7 112.9L1165.6 138.8L1135.7 138.8zM1150.7 398.7L1165.6 424.6L1135.7 424.6zM1150.7 405.4L1165.6 431.3L1135.7 431.3zM1150.7 412.0L1165.6 437.9L1135.7 437.9zM1150.7 438.6L1165.6 464.5L1135.7 464.5zM1150.7 445.3L1165.6 471.2L1135.7 471.2zM1157.3 106.3L1172.3 132.2L1142.4 132.2zM1157.3 112.9L1172.3 138.8L1142.4 138.8zM1157.3 412.0L1172.3 437.9L1142.4 437.9zM1157.3 418.7L1172.3 444.6L1142.4 444.6zM1157.3 438.6L1172.3 464.5L1142.4 464.5zM1157.3 445.3L1172.3 471.2L1142.4 471.2zM1164.0 106.3L1178.9 132.2L1149.0 132.2zM1170.6 598.1L1185.6 624.0L1155.7 624.0zM1170.6 864.0L1185.6 889.9L1155.7 889.9zM1170.6 883.9L1185.6 909.8L1155.7 909.8zM1177.3 883.9L1192.2 909.8L1162.3 909.8zM1177.3 910.5L1192.2 936.4L1162.3 936.4zM1183.9 93.0L1198.9 118.9L1169.0 118.9zM1197.2 864.0L1212.2 889.9L1182.3 889.9zM1197.2 883.9L1212.2 909.8L1182.3 909.8zM1197.2 890.6L1212.2 916.5L1182.3 916.5zM1197.2 910.5L1212.2 936.4L1182.3 936.4zM1203.9 910.5L1218.8 936.4L1188.9 936.4zM1203.9 937.1L1218.8 963.0L1188.9 963.0zM1223.8 917.2L1238.8 943.0L1208.9 943.0zM1223.8 937.1L1238.8 963.0L1208.9 963.0zM1230.5 937.1L1245.4 963.0L1215.5 963.0zM1330.1 106.3L1345.1 132.2L1315.2 132.2zM1330.1 119.6L1345.1 145.5L1315.2 145.5zM1330.1 132.9L1345.1 158.8L1315.2 158.8zM1330.1 285.7L1345.1 311.6L1315.2 311.6zM1336.8 99.6L1351.7 125.5L1321.8 125.5zM1336.8 106.3L1351.7 132.2L1321.8 132.2zM1336.8 112.9L1351.7 138.8L1321.8 138.8zM1336.8 119.6L1351.7 145.5L1321.8 145.5zM1336.8 126.2L1351.7 152.1L1321.8 152.1zM1336.8 285.7L1351.7 311.6L1321.8 311.6zM1336.8 292.4L1351.7 318.3L1321.8 318.3zM1336.8 305.7L1351.7 331.6L1321.8 331.6zM1336.8 312.3L1351.7 338.2L1321.8 338.2zM1343.4 99.6L1358.4 125.5L1328.5 125.5zM1343.4 106.3L1358.4 132.2L1328.5 132.2zM1343.4 305.7L1358.4 331.6L1328.5 331.6zM1343.4 312.3L1358.4 338.2L1328.5 338.2zM1350.1 86.4L1365.0 112.2L1335.1 112.2zM1350.1 93.0L1365.0 118.9L1335.1 118.9zM1350.1 99.6L1365.0 125.5L1335.1 125.5zM1350.1 106.3L1365.0 132.2L1335.1 132.2zM1350.1 312.3L1365.0 338.2L1335.1 338.2zM1350.1 332.3L1365.0 358.2L1335.1 358.2zM1350.1 338.9L1365.0 364.8L1335.1 364.8zM1356.7 86.4L1371.7 112.2L1341.8 112.2zM1356.7 93.0L1371.7 118.9L1341.8 118.9zM1356.7 99.6L1371.7 125.5L1341.8 125.5zM1363.4 73.1L1378.3 99.0L1348.4 99.0zM1363.4 79.7L1378.3 105.6L1348.4 105.6zM1363.4 86.4L1378.3 112.2L1348.4 112.2zM1363.4 93.0L1378.3 118.9L1348.4 118.9zM1370.0 73.1L1385.0 99.0L1355.1 99.0zM1370.0 79.7L1385.0 105.6L1355.1 105.6zM1370.0 86.4L1385.0 112.2L1355.1 112.2zM1370.0 93.0L1385.0 118.9L1355.1 118.9zM1370.0 1103.3L1385.0 1129.1L1355.1 1129.1zM1376.7 66.4L1391.6 92.3L1361.7 92.3zM1376.7 73.1L1391.6 99.0L1361.7 99.0zM1376.7 79.7L1391.6 105.6L1361.7 105.6zM1383.3 66.4L1398.3 92.3L1368.4 92.3zM1383.3 73.1L1398.3 99.0L1368.4 99.0z" fill="none" stroke="#ff0000" stroke-width="3.00" stroke-linejoin="round"/>
<path d="M1202.6 73.1L1217.55 99.0L1187.65 99.0z" fill="none" stroke="#ff0000" stroke-width="3.0" stroke-linejoin="round"/><rect x="1191.5" y="138.9" width="22.2" height="22.2" fill="none" stroke="#0000ff" stroke-width="3.0" stroke-linejoin="round"/>
<g fill="none" stroke="#000" stroke-width="3.00" stroke-linecap="round" stroke-linejoin="round">
<rect x="120" y="30" width="1450" height="1450"/>
<path d="M167.03 1480v30.1M120 77.03h-30.2M499.35 1480v30.1M120 409.35h-30.2M831.67 1480v30.1M120 741.67h-30.2M1163.99 1480v30.1M120 1073.99h-30.2M1496.31 1480v30.1M120 1406.31h-30.2"/>
</g>
<text transform="translate(165.7 1588.6) scale(1 1.020)" font-size="50.0" text-anchor="middle">0</text>
<text transform="translate(48.3 78.0) rotate(-90) scale(1 1.020)" font-size="50.0" text-anchor="middle">0</text>
<text transform="translate(498.1 1588.6) scale(1 1.020)" font-size="50.0" text-anchor="middle">50</text>
<text transform="translate(48.3 410.4) rotate(-90) scale(1 1.020)" font-size="50.0" text-anchor="middle">50</text>
<text transform="translate(830.4 1588.6) scale(1 1.020)" font-size="50.0" text-anchor="middle">100</text>
<text transform="translate(48.3 742.7) rotate(-90) scale(1 1.020)" font-size="50.0" text-anchor="middle">100</text>
<text transform="translate(1162.7 1588.6) scale(1 1.020)" font-size="50.0" text-anchor="middle">150</text>
<text transform="translate(48.3 1075.0) rotate(-90) scale(1 1.020)" font-size="50.0" text-anchor="middle">150</text>
<text transform="translate(1495.0 1588.6) scale(1 1.020)" font-size="50.0" text-anchor="middle">200</text>
<text transform="translate(48.3 1407.3) rotate(-90) scale(1 1.020)" font-size="50.0" text-anchor="middle">200</text>
<text transform="translate(196.6 1450.6) scale(1 1.05)" font-size="100">Top-L</text><text transform="translate(1247.6 107.8) scale(1 1.02)" font-size="50">DNCON2-RR</text><text transform="translate(1247.6 167.6) scale(1 1.02)" font-size="50">Model-RR</text>
</svg></body></html>
